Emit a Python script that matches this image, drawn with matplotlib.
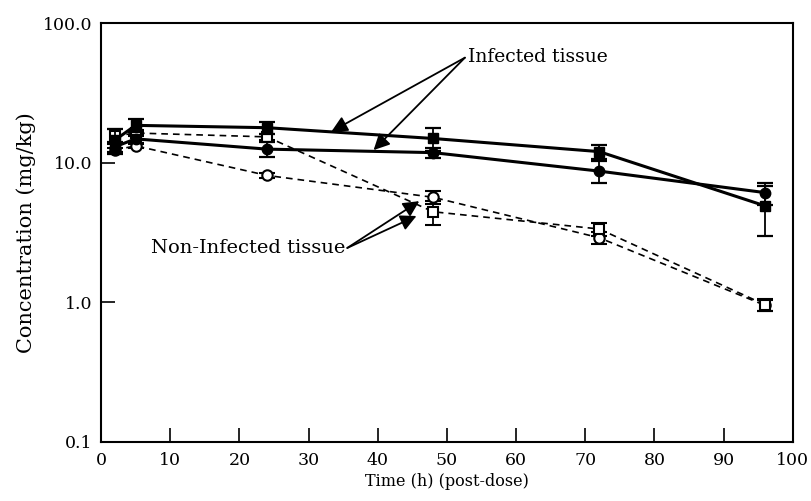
import matplotlib
matplotlib.use("Agg")
import matplotlib.pyplot as plt

plt.rcParams['font.family'] = ['DejaVu Serif']

time = [2, 5, 24, 48, 72, 96]

inf_sq = [14.5, 18.5, 17.8, 14.9, 12.0, 4.9]
inf_sq_err = [3.0, 2.0, 1.8, 2.7, 1.3, 1.9]

inf_ci = [13.0, 14.8, 12.5, 11.8, 8.7, 6.1]
inf_ci_err = [1.0, 1.0, 1.6, 1.0, 1.5, 1.1]

non_ci = [12.3, 13.2, 8.1, 5.65, 2.9, 0.95]
non_ci_err = [0.5, 0.5, 0.3, 0.6, 0.3, 0.08]

non_sq = [15.5, 16.3, 15.3, 4.45, 3.35, 0.96]
non_sq_err = [1.8, 0.8, 0.8, 0.9, 0.35, 0.1]

xticks = [0, 10, 20, 30, 40, 50, 60, 70, 80, 90, 100]
yticks = [0.1, 1.0, 10.0, 100.0]
ytick_labels = ["0.1", "1.0", "10.0", "100.0"]

fig = plt.figure(figsize=(8.12, 5.01), dpi=100)
ax = fig.add_axes([0.1244, 0.118, 0.852, 0.836])

ekw = dict(ecolor='black', elinewidth=1.3, capsize=6, capthick=1.6)

ax.errorbar(time, non_ci, yerr=non_ci_err, color='black', lw=1.2, ls=(0, (4, 3)),
            marker='o', ms=7.5, mfc='white', mec='black', mew=1.5, **ekw, zorder=3)
ax.errorbar(time, non_sq, yerr=non_sq_err, color='black', lw=1.2, ls=(0, (4, 3)),
            marker='s', ms=7.5, mfc='white', mec='black', mew=1.5, **ekw, zorder=3)
ax.errorbar(time, inf_ci, yerr=inf_ci_err, color='black', lw=2.2, ls='-',
            marker='o', ms=7.5, mfc='black', mec='black', **ekw, zorder=4)
ax.errorbar(time, inf_sq, yerr=inf_sq_err, color='black', lw=2.2, ls='-',
            marker='s', ms=7.5, mfc='black', mec='black', **ekw, zorder=4)

ax.set_yscale('log')
ax.set_xlim(0, 100)
ax.set_ylim(0.1, 100)
ax.set_xticks(xticks)
ax.set_xticklabels([str(t) for t in xticks])
ax.set_yticks(yticks)
ax.set_yticklabels(ytick_labels)
ax.minorticks_off()
ax.tick_params(direction='in', length=10, width=1.2, labelsize=12.5)
ax.tick_params(axis='x', pad=7)
ax.tick_params(axis='y', pad=6)
for s in ax.spines.values():
    s.set_linewidth(1.5)

ax.set_xlabel("Time (h) (post-dose)", fontsize=11.5, labelpad=3)
ax.set_ylabel("Concentration (mg/kg)", fontsize=15, labelpad=5)

aprops = dict(arrowstyle='-|>', mutation_scale=24, lw=1.3, color='black', shrinkA=0, shrinkB=0)
ax.annotate("", xy=(33.3, 16.7), xytext=(52.6, 56.5), arrowprops=aprops)
ax.annotate("", xy=(39.4, 12.3), xytext=(52.6, 56.5), arrowprops=aprops)
ax.text(53.0, 57.0, "Infected tissue", fontsize=13.5, ha='left', va='center')

ax.annotate("", xy=(46.0, 5.3), xytext=(35.6, 2.45), arrowprops=aprops)
ax.annotate("", xy=(45.6, 4.15), xytext=(35.6, 2.45), arrowprops=aprops)
ax.text(35.3, 2.45, "Non-Infected tissue", fontsize=14, ha='right', va='center')

fig.savefig("out.png", dpi=100)
